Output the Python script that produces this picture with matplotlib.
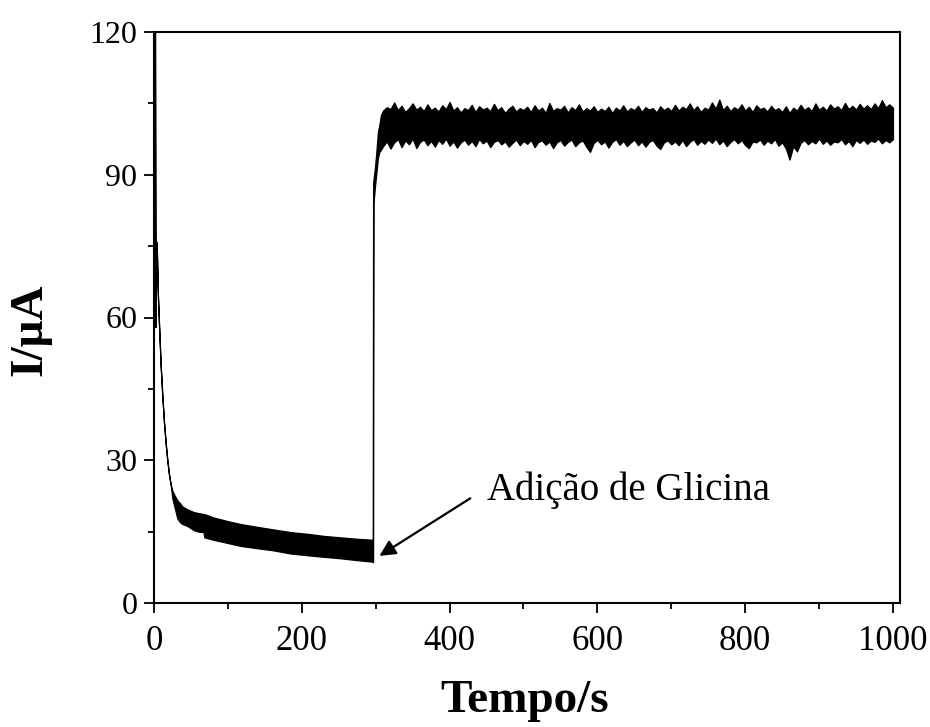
import numpy as np
import matplotlib
matplotlib.use("Agg")
import matplotlib.pyplot as plt
from matplotlib.ticker import MultipleLocator

# ---- data ----
# initial decay region (before glycine addition): time (s), upper / lower envelope (uA)
t_decay = [0, 1.3, 2.0, 2.8, 4.0, 5.2, 6.8, 9.0, 11.3, 13.5, 15.8, 18.0, 20.3, 22.5,
           24.8, 28, 31.5, 35, 38.3, 45, 54, 60, 67, 68, 80, 100, 117, 140, 160,
           185, 210, 230, 252, 275, 295, 296]
decay_upper = [125, 125, 58, 76, 73.4, 65, 58.5, 50, 43.5, 38, 33.6, 30, 27, 25,
               23.6, 22.6, 21.6, 21.0, 20.3, 19.7, 19.1, 18.9, 18.7, 18.7, 18.0, 17.2,
               16.6, 16.0, 15.5, 14.9, 14.5, 14.1, 13.8, 13.5, 13.3, 13.2]
decay_lower = [125, 125, 58, 76, 73.4, 65, 58.5, 50, 43.5, 38, 33.6, 30, 27, 25,
               22.0, 20.0, 17.8, 17.0, 16.6, 16.2, 15.3, 15.0, 14.9, 13.8, 13.3, 12.6,
               12.0, 11.5, 11.1, 10.4, 10.0, 9.7, 9.4, 9.0, 8.7, 8.6]

# rise after glycine addition
t_rise = [296.5, 297, 299, 301, 303, 305, 307]
rise_upper = [88, 89, 91.5, 95, 99, 100.5, 102.5]
rise_lower = [8.6, 84, 87.5, 90.5, 93.5, 94.8, 95.2]

# plateau (310 s to 1000 s, every 5 s)
plateau_upper = [103.5, 104.2, 103.8, 105.2, 103.6, 104.5, 103.2, 104.0, 105.0, 103.7,
                 104.3, 103.4, 104.8, 103.6, 104.1, 103.3, 104.6, 103.8, 105.3, 103.5,
                 104.2, 103.1, 104.0, 103.6, 104.7, 103.2, 104.4, 103.7, 104.1, 103.4,
                 104.9, 103.6, 104.2, 103.0, 103.9, 104.5, 103.3, 104.0, 103.6, 104.3,
                 103.2, 104.6, 103.5, 104.1, 103.0, 105.1, 103.4, 104.0, 103.7, 104.5,
                 103.1, 104.2, 103.6, 104.8, 103.3, 104.0, 103.5, 104.4, 103.2, 103.9,
                 103.4, 104.3, 103.0, 104.1, 103.5, 104.6, 103.3, 104.0, 103.6, 104.5,
                 103.2, 104.2, 103.7, 104.0, 103.1, 104.4, 103.6, 104.1, 103.4, 104.7,
                 103.5, 104.3, 103.8, 105.0, 103.6, 104.4, 103.2, 104.1, 103.7, 105.2,
                 103.9, 105.8, 103.6, 104.5, 103.4, 104.2, 103.7, 104.8, 103.5, 104.3,
                 103.2, 104.6, 103.8, 104.1, 103.3, 104.5, 103.6, 104.0, 103.2, 104.4,
                 103.0, 104.1, 103.5, 104.7, 103.6, 104.2, 103.4, 105.0, 103.7, 104.3,
                 103.5, 104.8, 103.9, 104.4, 103.6, 105.1, 103.8, 104.5, 103.7, 104.9,
                 103.9, 104.6, 103.8, 105.0, 104.0, 105.7, 104.2, 104.8, 104.1]
plateau_lower = [96.0, 97.0, 95.5, 96.8, 97.5, 95.8, 97.2, 96.4, 97.6, 95.6,
                 96.9, 97.4, 96.2, 97.1, 95.9, 97.3, 96.5, 97.6, 96.1, 97.0,
                 95.7, 96.8, 97.4, 96.3, 97.1, 96.0, 97.5, 96.6, 97.2, 95.8,
                 96.9, 97.3, 96.4, 97.0, 95.9, 96.7, 97.4, 96.2, 97.1, 96.5,
                 97.3, 95.8, 96.9, 97.2, 96.3, 97.0, 95.6, 96.8, 97.3, 96.1,
                 96.9, 97.4, 96.0, 96.8, 97.2, 95.9, 94.8, 96.7, 97.3, 96.4,
                 97.0, 95.7, 96.9, 97.5, 96.3, 97.1, 96.0, 96.8, 97.4, 96.2,
                 97.0, 95.9, 96.9, 97.3, 96.1, 95.4, 96.8, 97.2, 96.4, 97.0,
                 96.2, 97.3, 96.0, 96.9, 97.5, 96.3, 97.1, 96.5, 97.4, 96.7,
                 97.6, 96.4, 97.2, 96.0, 96.9, 97.5, 96.6, 97.3, 96.2, 95.6,
                 97.0, 96.8, 97.4, 96.3, 97.2, 96.6, 97.5, 96.1, 96.8, 95.5,
                 93.2, 96.0, 94.9, 96.7, 97.3, 96.4, 97.1, 96.6, 97.6, 96.5,
                 97.2, 96.3, 97.0, 96.8, 97.5, 96.4, 97.1, 96.0, 97.3, 96.7,
                 97.4, 96.5, 97.2, 96.9, 97.6, 96.6, 97.3, 96.8, 97.5]
t_plateau = list(310 + 5 * np.arange(len(plateau_upper)))

x_ticks = [0, 200, 400, 600, 800, 1000]
y_ticks = [0, 30, 60, 90, 120]
annot_text = "Adição de Glicina"

# ---- plotting ----
plt.rcParams['font.family'] = ['Liberation Serif', 'DejaVu Serif']
W, H = 930, 727
fig = plt.figure(figsize=(W / 100, H / 100), dpi=100)
ax = fig.add_axes([154 / W, 1 - 603 / H, (900 - 154) / W, (603 - 32) / H])

t_all = np.array(t_decay + t_rise + t_plateau, dtype=float)
up_all = np.array(decay_upper + rise_upper + plateau_upper, dtype=float)
lo_all = np.array(decay_lower + rise_lower + plateau_lower, dtype=float)

ax.fill_between(t_all, lo_all, up_all, facecolor='black', edgecolor='black', linewidth=0.9)

ax.set_xlim(0, 1009.5)
ax.set_ylim(0, 120)
ax.set_xticks(x_ticks)
ax.set_yticks(y_ticks)
ax.xaxis.set_minor_locator(MultipleLocator(100))
ax.yaxis.set_minor_locator(MultipleLocator(15))
ax.tick_params(which='both', direction='out', top=False, right=False, width=1.3)
ax.tick_params(which='major', length=7)
ax.tick_params(axis='x', which='major', labelsize=25, pad=9)
ax.tick_params(axis='y', which='major', labelsize=23, pad=5)
ax.tick_params(which='minor', length=4)
for s in ax.spines.values():
    s.set_linewidth(1.5)

fig.text(525 / W, 1 - 701 / H, "Tempo/s", fontsize=34, fontweight='bold',
         ha='center', va='center')
fig.text(30 / W, 1 - 330 / H, "I/μA", fontsize=34, fontweight='bold',
         ha='center', va='center', rotation=90)

ax.text(451, 23.7, annot_text, fontsize=28, ha='left', va='center')
ax.annotate("", xy=(305, 9.9), xytext=(428, 22),
            arrowprops=dict(arrowstyle='-|>', color='black', lw=1.6,
                            mutation_scale=24, shrinkA=0, shrinkB=0))

fig.savefig("out.png", dpi=100)
